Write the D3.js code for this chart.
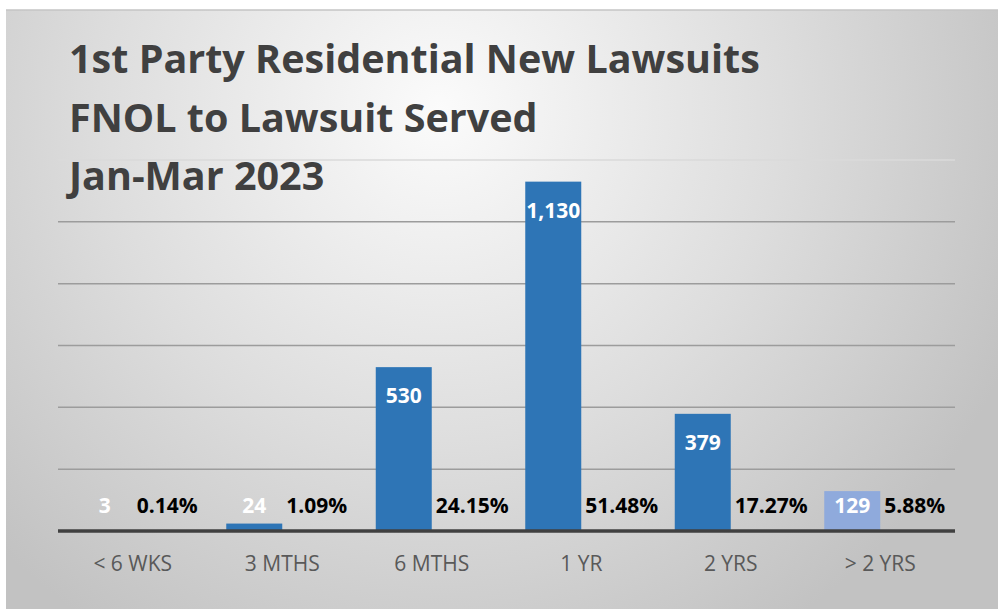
<!DOCTYPE html>
<html>
<head>
    <meta charset="utf-8">
    <title>FNOL to Lawsuit Served</title>
    <script src="https://d3js.org/d3.v7.min.js"></script>
    <style>
        body { margin: 0; background: #ffffff; }
        text { font-family: "Open Sans", sans-serif; }
    </style>
</head>
<body>
    <div id="chart"></div>

    <script>
        // data
        var categories = ["< 6 WKS", "3 MTHS", "6 MTHS", "1 YR", "2 YRS", "> 2 YRS"];
        var counts = [3, 24, 530, 1130, 379, 129];
        var percents = ["0.14%", "1.09%", "24.15%", "51.48%", "17.27%", "5.88%"];
        var yTicks = [0, 200, 400, 600, 800, 1000, 1200];
        var titleLines = ["1st Party Residential New Lawsuits", "FNOL to Lawsuit Served", "Jan-Mar 2023"];

        var W = 998, H = 609;

        var svg = d3.select("#chart")
          .append("svg")
            .attr("width", W)
            .attr("height", H);

        // background panel with soft radial shading
        var defs = svg.append("defs");
        var grad = defs.append("radialGradient")
            .attr("id", "bg")
            .attr("gradientUnits", "userSpaceOnUse")
            .attr("cx", 440).attr("cy", 110)
            .attr("r", 620);
        grad.append("stop").attr("offset", "0%").attr("stop-color", "#fbfbfb");
        grad.append("stop").attr("offset", "55%").attr("stop-color", "#dddddd");
        grad.append("stop").attr("offset", "100%").attr("stop-color", "#c2c2c2");

        svg.append("rect")
            .attr("x", 6).attr("y", 10)
            .attr("width", W - 6).attr("height", H - 10)
            .attr("fill", "url(#bg)");
        svg.append("line")
            .attr("x1", 6).attr("x2", W)
            .attr("y1", 10).attr("y2", 10)
            .attr("stroke", "#c4c4c4").attr("stroke-width", 1.5);

        var x = d3.scaleBand()
            .domain(categories)
            .range([58, 955])
            .paddingInner(0).paddingOuter(0);

        var x1 = d3.scaleBand()
            .domain(["count", "pct"])
            .range([0, x.bandwidth()])
            .paddingInner(0).paddingOuter(0.335);

        var y = d3.scaleLinear()
            .domain([0, 1200])
            .range([531, 160]);

        // gridlines
        svg.append("g")
          .selectAll("line")
          .data(yTicks.slice(1))
          .enter().append("line")
            .attr("x1", 58).attr("x2", 955)
            .attr("y1", function(d) { return y(d); })
            .attr("y2", function(d) { return y(d); })
            .attr("stroke", function(d) { return d === 1200 ? "#dadada" : "#9c9c9c"; })
            .attr("stroke-width", 1.5);

        // title
        svg.append("g")
          .selectAll("text")
          .data(titleLines)
          .enter().append("text")
            .attr("x", 69)
            .attr("y", function(d, i) { return 73 + i * 58.5; })
            .attr("fill", "#404040")
            .style("font-size", "39.5px")
            .style("font-weight", "bold")
            .text(function(d) { return d; });

        // bars
        svg.append("g")
          .selectAll("rect")
          .data(counts)
          .enter().append("rect")
            .attr("x", function(d, i) { return x(categories[i]) + x1("count"); })
            .attr("y", function(d) { return y(d); })
            .attr("width", x1.bandwidth())
            .attr("height", function(d) { return y(0) - y(d); })
            .attr("fill", function(d, i) { return i === 5 ? "#8faadc" : "#2e75b6"; });

        // count labels
        svg.append("g")
          .selectAll("text")
          .data(counts)
          .enter().append("text")
            .attr("x", function(d, i) { return x(categories[i]) + x1("count") + x1.bandwidth() / 2; })
            .attr("y", function(d) { return Math.min(y(d) + 36, y(0) - 18); })
            .attr("text-anchor", "middle")
            .attr("fill", "#ffffff")
            .style("font-size", "21px")
            .style("font-weight", "bold")
            .text(function(d) { return d3.format(",")(d); });

        // percent labels, just right of each category centre
        svg.append("g")
          .selectAll("text")
          .data(percents)
          .enter().append("text")
            .attr("x", function(d, i) { return x(categories[i]) + x.bandwidth() / 2 + 4; })
            .attr("y", y(0) - 18)
            .attr("fill", "#000000")
            .style("font-size", "21px")
            .style("font-weight", "bold")
            .text(function(d) { return d; });

        // baseline
        svg.append("line")
            .attr("x1", 58).attr("x2", 955)
            .attr("y1", y(0)).attr("y2", y(0))
            .attr("stroke", "#404040").attr("stroke-width", 3.5);

        // category axis
        var xAxis = svg.append("g")
            .attr("transform", "translate(0," + (y(0) + 2) + ")")
            .call(d3.axisBottom(x).tickSize(0).tickPadding(23));
        xAxis.select(".domain").remove();
        xAxis.selectAll("text")
            .attr("fill", "#595959")
            .style("font-size", "21px")
            .style("font-family", "'Open Sans', sans-serif");
    </script>
</body>
</html>
